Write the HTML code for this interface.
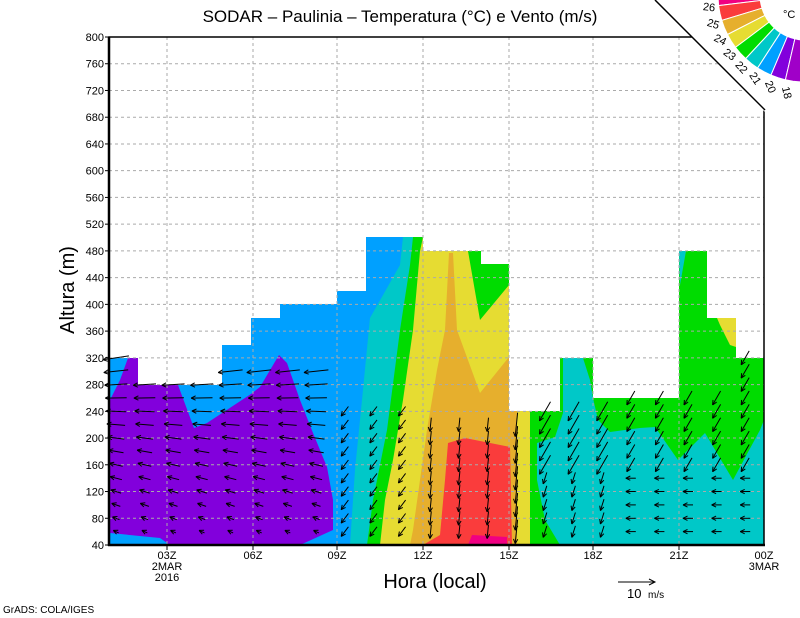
<!DOCTYPE html>
<html><head><meta charset="utf-8"><style>
html,body{margin:0;padding:0;background:#fff;}
svg{display:block;font-family:"Liberation Sans",sans-serif;}
</style></head><body>
<svg id="s" width="800" height="618" viewBox="0 0 800 618" xmlns="http://www.w3.org/2000/svg">
<defs>
<clipPath id="dc"><polygon points="109,545 109,358 138,358 138,385 222,385 222,345 251,345 251,318 280,318 280,304 337,304 337,291 366,291 366,237 423,237 423,251 481,251 481,264 509,264 509,411 560,411 560,358 593,358 593,398 679,398 679,251 707,251 707,318 736,318 736,358 764,358 764,545"/></clipPath>
</defs>
<g clip-path="url(#dc)">
<rect x="109" y="200" width="660" height="350" fill="#00c8c8"/>
<polygon fill="#00a0ff" points="109,200 403,200 403,237 400,265 370,318 362,400 355,470 350,545 109,545"/>
<polygon fill="#8200dc" points="110,400 120,380 128,358 138,358 138,385 178,385 194,428 207,423 251,394 260,387 279,355 287,363 300,400 313,433 327,467 333,500 333,530 300,545 170,545 160,538 110,533"/>
<polygon fill="#00dc00" points="413,237 410,265 400,330 387,430 373,500 367,545 509,545 509,237"/>
<polygon fill="#e6dc32" points="423,237 420,251 413,330 403,400 393,460 385,500 380,545 509,545 509,237"/>
<polygon fill="#00dc00" points="468,251 481,251 481,264 509,264 509,285 480,320"/>
<polygon fill="#e6af2d" points="449,253 453,253 457,330 480,393 509,357 509,411 517,411 520,545 410,545 413,530 420,480 427,430 437,370 445,330"/>
<polygon fill="#fa3c3c" points="448,443 465,438 510,447 512,545 423,545 440,535 445,480"/>
<polygon fill="#f00082" points="472,535 507,537 507,545 468,545"/>
<rect x="517" y="405" width="14" height="140" fill="#e6dc32"/>
<rect x="530" y="250" width="240" height="300" fill="#00dc00"/>
<polygon fill="#00c8c8" points="560,545 545,520 537,480 537,443 555,437 563,413 563,358 583,358 590,380 593,398 598,420 610,432 640,428 655,427 678,460 705,433 733,480 760,430 764,420 764,545"/>
<polygon fill="#00c8c8" points="679,251 686,251 680,285"/>
<polygon fill="#e6dc32" points="717,318 736,318 736,347 730,345 720,325"/>
</g>
<g id="grid" stroke="#aaa" stroke-width="1" stroke-dasharray="3,3" fill="none"></g>
<g id="arr" stroke="#000" stroke-width="1" fill="none"></g>
<rect x="109" y="37" width="655" height="508" fill="none" stroke="#000" stroke-width="1.5"/>
<line x1="109" y1="37" x2="109" y2="546" stroke="#000" stroke-width="2.5"/>
<line x1="108" y1="545" x2="765" y2="545" stroke="#000" stroke-width="2.5"/>
<g id="lab" font-size="11" fill="#000"></g>
<g font-size="11" text-anchor="middle">
<text x="167" y="559">03Z</text><text x="167" y="570">2MAR</text><text x="167" y="581">2016</text>
<text x="253" y="559">06Z</text><text x="337" y="559">09Z</text><text x="423" y="559">12Z</text>
<text x="509" y="559">15Z</text><text x="593" y="559">18Z</text><text x="679" y="559">21Z</text>
<text x="764" y="559">00Z</text><text x="764" y="570">3MAR</text>
</g>
<text x="400" y="22" font-size="17" text-anchor="middle">SODAR – Paulinia – Temperatura (°C) e Vento (m/s)</text>
<text x="435" y="588" font-size="20" text-anchor="middle">Hora (local)</text>
<text transform="translate(74,290) rotate(-90)" font-size="20" text-anchor="middle">Altura (m)</text>
<text x="3" y="613" font-size="10">GrADS: COLA/IGES</text>
<line x1="618" y1="582" x2="655" y2="582" stroke="#000"/>
<polyline points="649,579 655,582 649,585" fill="none" stroke="#000"/>
<text x="627" y="598" font-size="13">10</text><text x="648" y="598" font-size="10">m/s</text>
<polygon points="655,0 800,0 800,112 765,112" fill="#fff"/>
<line x1="655" y1="0" x2="765" y2="110" stroke="#000" stroke-width="1.5"/>
<g id="cb"></g>
<text x="783" y="18" font-size="11">°C</text>
</svg>
<script>
var NS="http://www.w3.org/2000/svg";
function el(p,t,a,txt){var e=document.createElementNS(NS,t);for(var k in a)e.setAttribute(k,a[k]);if(txt)e.textContent=txt;p.appendChild(e);return e;}
var g=document.getElementById('grid'),lab=document.getElementById('lab');
function Y(h){return 545-(h-40)*0.66842;}
for(var h=40;h<=800;h+=40){var y=Y(h);if(h>40&&h<800)el(g,'line',{x1:109,y1:y,x2:764,y2:y});
el(lab,'text',{x:104,y:y+4,'text-anchor':'end'},String(h));el(lab,'line',{x1:105,y1:y,x2:109,y2:y,stroke:'#000'});}
[167,253,337,423,509,593,679].forEach(function(x){el(g,'line',{x1:x,y1:37,x2:x,y2:545});el(lab,'line',{x1:x,y1:545,x2:x,y2:550,stroke:'#000'});});
var A=document.getElementById('arr');
function topH(x){if(x<138)return 320;if(x<222)return 280;if(x<337)return 300;if(x<423)return 240;if(x<545)return 220;if(x<620)return 240;if(x<720)return 260;return 320;}
for(var i=0;i<23;i++){var cx=116+28.6*i;var tp=topH(cx);
for(var hh=60;hh<=tp;hh+=20){var cy=Y(hh);var dx,dy,L;
if(cx<340){var f=(hh-60)/260;L=6+f*20;dx=-1;dy=0.15-0.6*(1-f);}
else if(cx<420){dx=-0.6;dy=0.8;L=12;}
else if(cx<545){dx=-0.1;dy=1;L=(cx>495)?24:14;}
else if(cx<620){if(hh>140){dx=-0.5;dy=0.87;L=22;}else{dx=-0.3;dy=0.95;L=12;}}
else{if(hh<=140){dx=-1;dy=0;L=10;}else{dx=-0.5;dy=0.87;L=16;}}
var n=Math.sqrt(dx*dx+dy*dy);dx/=n;dy/=n;
var x1=cx-dx*L/2,y1=cy-dy*L/2,x2=cx+dx*L/2,y2=cy+dy*L/2;
el(A,'line',{x1:x1.toFixed(1),y1:y1.toFixed(1),x2:x2.toFixed(1),y2:y2.toFixed(1)});
var a=Math.atan2(dy,dx),hl=5;
for(var s=-1;s<=1;s+=2){var b=a+Math.PI+s*0.45;el(A,'line',{x1:x2.toFixed(1),y1:y2.toFixed(1),x2:(x2+hl*Math.cos(b)).toFixed(1),y2:(y2+hl*Math.sin(b)).toFixed(1)});}
}}
var cb=document.getElementById('cb');
var cols=['#f00082','#fa3c3c','#e6af2d','#e6dc32','#00dc00','#00c8c8','#00a0ff','#8200dc','#a000c8'];
var cxc=805,cyc=-5,r1=45,r2=87,a0=183,step=10;
function P(r,d){var t=d*Math.PI/180;return (cxc+r*Math.cos(t)).toFixed(1)+','+(cyc+r*Math.sin(t)).toFixed(1);}
for(var k=0;k<9;k++){var s1=a0-k*step,s2=s1-step;
el(cb,'polygon',{points:[P(r1,s1),P(r2,s1),P(r2,(s1+s2)/2),P(r2,s2),P(r1,s2),P(r1,(s1+s2)/2)].join(' '),fill:cols[k],stroke:'#fff','stroke-width':1});}
var names=['26','25','24','23','22','21','20','18'];
for(var k=0;k<8;k++){var th=a0-(k+1)*step;var t=th*Math.PI/180;var px=cxc+97*Math.cos(t),py=cyc+97*Math.sin(t)+4;
el(cb,'text',{x:px.toFixed(1),y:py.toFixed(1),'font-size':11,transform:'rotate('+(180-th).toFixed(0)+' '+px.toFixed(1)+' '+py.toFixed(1)+')','text-anchor':'middle'},names[k]);}
</script>
</body></html>
